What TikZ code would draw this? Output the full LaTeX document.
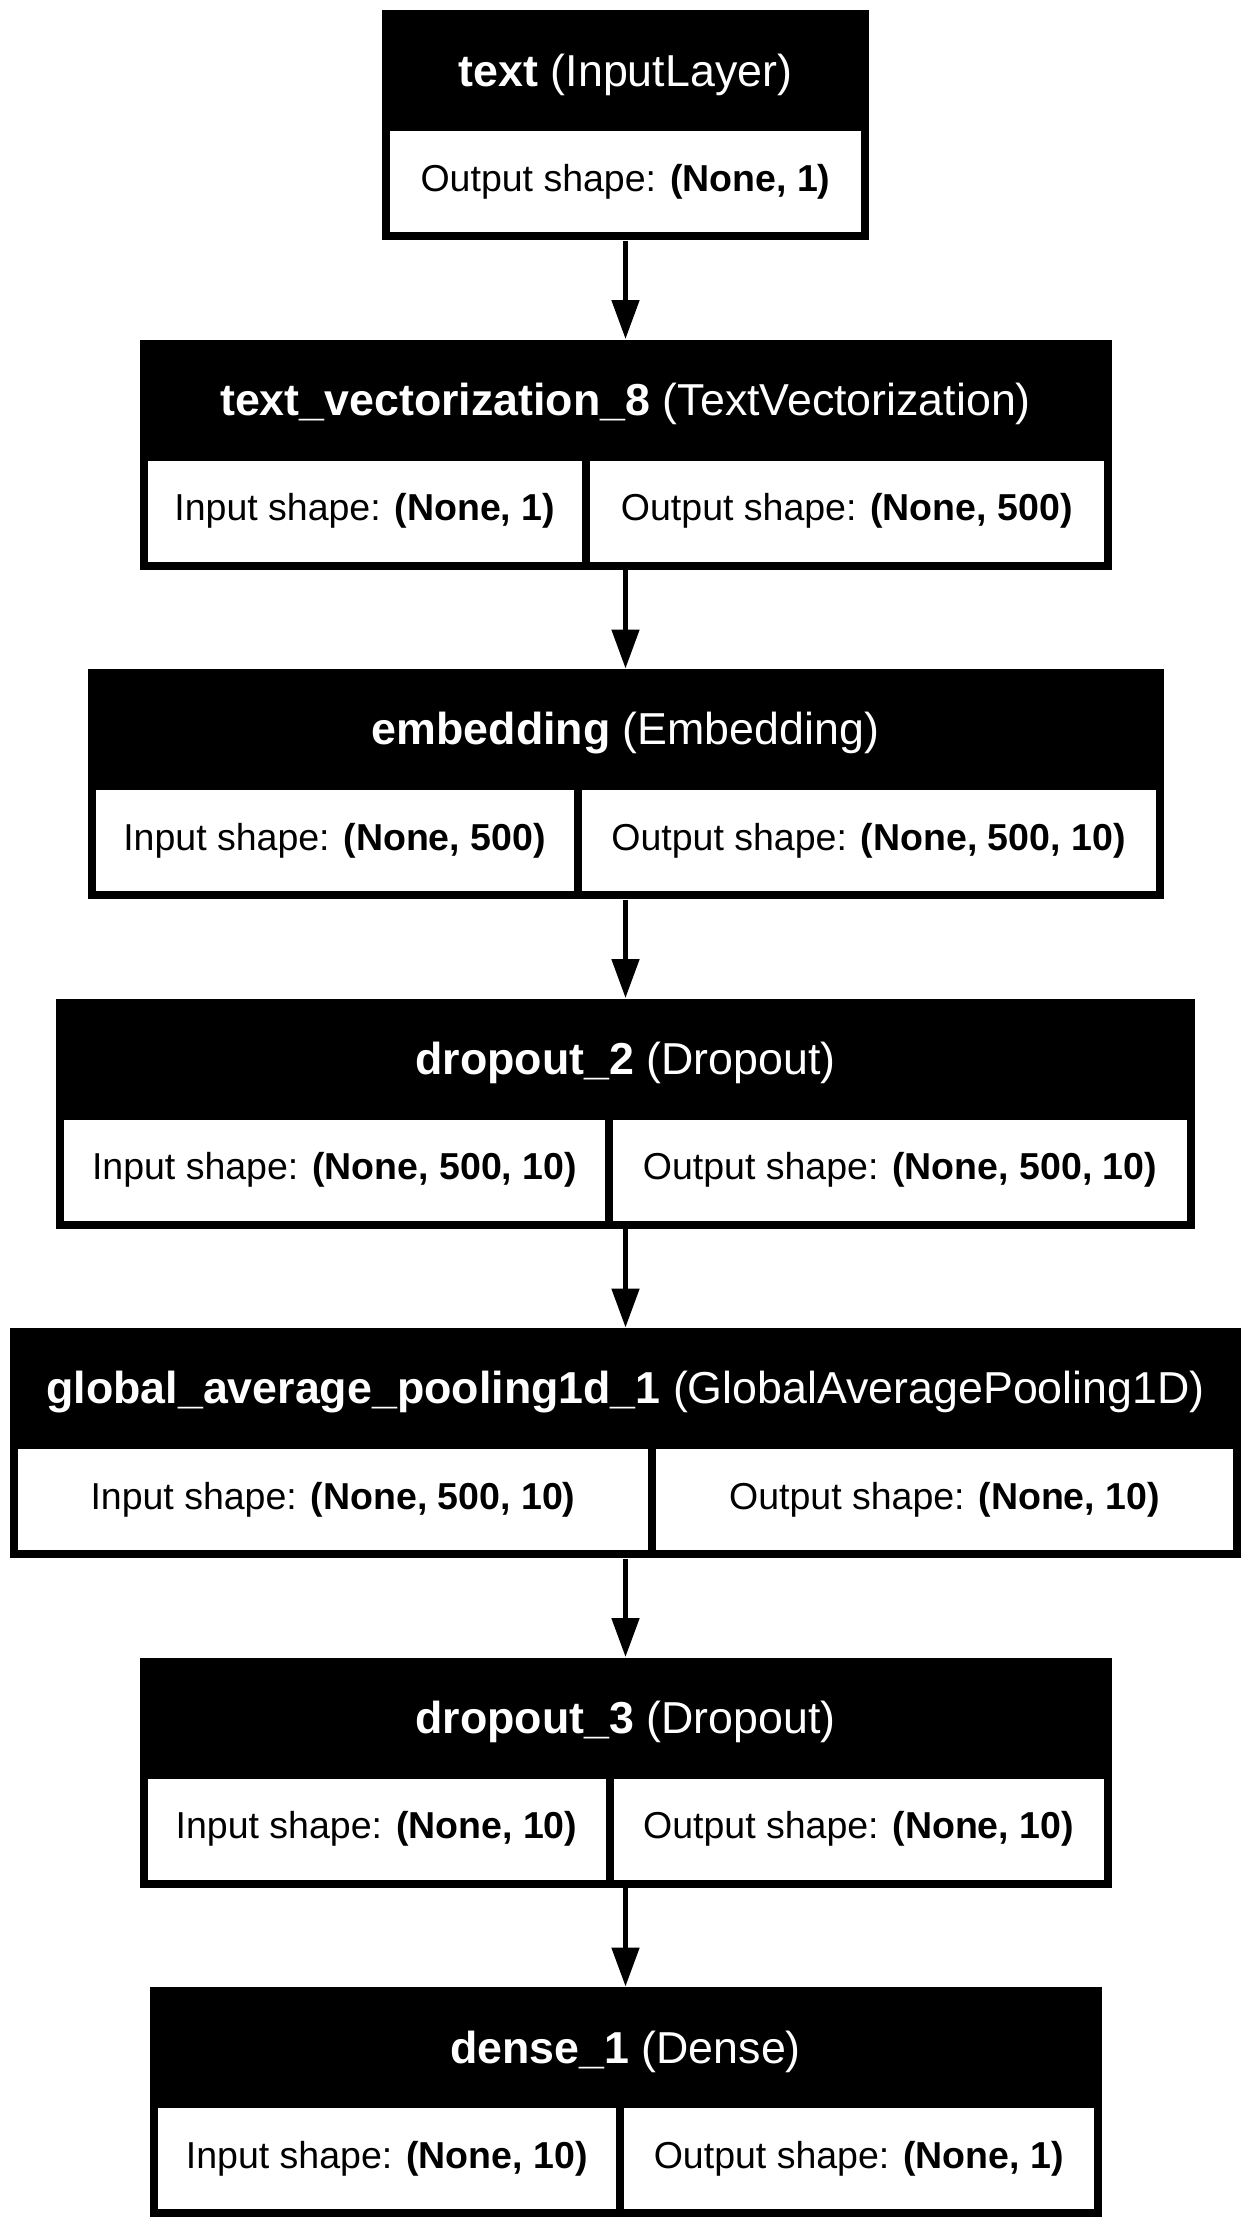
\documentclass[tikz,border=0pt]{standalone}
\usepackage{fontspec}
\setmainfont{Liberation Sans}
\usetikzlibrary{arrows.meta}
\usetikzlibrary{positioning}
\usetikzlibrary{fit}

\tikzset{
	layerbox/.style={fill=black, inner sep=0pt},
	cellbox/.style={fill=white, inner sep=0pt, text=black, minimum height=101*0.4pt, font=\fontsize{15}{18}\selectfont},
	titletext/.style={text=white, inner sep=0pt, font=\fontsize{17.9}{21}\selectfont},
	flow/.style={line width=2pt, -{Triangle[length=15.6pt, width=10.8pt]}}
}

\begin{document}
\begin{tikzpicture}[x=0.4pt, y=-0.4pt]
					\useasboundingbox (0,0) rectangle (1251,2226);
					
					% text
					\node (text) [layerbox, fit={(382,10) (869,240)}] {};
					\node (textT) [titletext] at (625.5,74.5) {\textbf{text} (InputLayer)};
					\node (textO) [cellbox, minimum width=471*0.4pt] at (625.5,181.5) {Output shape: \textbf{(None, 1)}};
					
					% text_vectorization_8
					\node (vec) [layerbox, fit={(139.5,339.5) (1111.5,569.5)}] {};
					\node (vecT) [titletext] at (625.5,404) {\textbf{text\_vectorization\_8} (TextVectorization)};
					\node (vecI) [cellbox, minimum width=434.5*0.4pt] at (364.75,511) {Input shape: \textbf{(None, 1)}};
					\node (vecO) [cellbox, minimum width=513.5*0.4pt] at (846.75,511) {Output shape: \textbf{(None, 500)}};
					
					% embedding
					\node (emb) [layerbox, fit={(87.5,669) (1163.5,899)}] {};
					\node (embT) [titletext] at (625.5,733.5) {\textbf{embedding} (Embedding)};
					\node (embI) [cellbox, minimum width=478*0.4pt] at (334.5,840.5) {Input shape: \textbf{(None, 500)}};
					\node (embO) [cellbox, minimum width=574*0.4pt] at (868.5,840.5) {Output shape: \textbf{(None, 500, 10)}};
					
					% dropout_2
					\node (dropA) [layerbox, fit={(56,998.5) (1195,1228.5)}] {};
					\node (dropAT) [titletext] at (625.5,1063) {\textbf{dropout\_2} (Dropout)};
					\node (dropAI) [cellbox, minimum width=541*0.4pt] at (334.5,1170) {Input shape: \textbf{(None, 500, 10)}};
					\node (dropAO) [cellbox, minimum width=574*0.4pt] at (900,1170) {Output shape: \textbf{(None, 500, 10)}};
					
					% global_average_pooling1d_1
					\node (pool) [layerbox, fit={(10,1328) (1241,1558)}] {};
					\node (poolT) [titletext] at (625.5,1392.5) {\textbf{global\_average\_pooling1d\_1} (GlobalAveragePooling1D)};
					\node (poolI) [cellbox, minimum width=630*0.4pt] at (333,1499.5) {Input shape: \textbf{(None, 500, 10)}};
					\node (poolO) [cellbox, minimum width=577*0.4pt] at (944.5,1499.5) {Output shape: \textbf{(None, 10)}};
					
					% dropout_3
					\node (dropB) [layerbox, fit={(139.5,1657.5) (1111.5,1887.5)}] {};
					\node (dropBT) [titletext] at (625.5,1722) {\textbf{dropout\_3} (Dropout)};
					\node (dropBI) [cellbox, minimum width=458*0.4pt] at (376.5,1829) {Input shape: \textbf{(None, 10)}};
					\node (dropBO) [cellbox, minimum width=490*0.4pt] at (858.5,1829) {Output shape: \textbf{(None, 10)}};
					
					% dense_1
					\node (dense) [layerbox, fit={(149.5,1987) (1101.5,2217)}] {};
					\node (denseT) [titletext] at (625.5,2051.5) {\textbf{dense\_1} (Dense)};
					\node (denseI) [cellbox, minimum width=458.5*0.4pt] at (386.75,2158.5) {Input shape: \textbf{(None, 10)}};
					\node (denseO) [cellbox, minimum width=469.5*0.4pt] at (858.75,2158.5) {Output shape: \textbf{(None, 1)}};
					
					% arrows
					\draw[flow] (text) -- (vec);
					\draw[flow] (vec) -- (emb);
					\draw[flow] (emb) -- (dropA);
					\draw[flow] (dropA) -- (pool);
					\draw[flow] (pool) -- (dropB);
					\draw[flow] (dropB) -- (dense);
				\end{tikzpicture}
\end{document}
